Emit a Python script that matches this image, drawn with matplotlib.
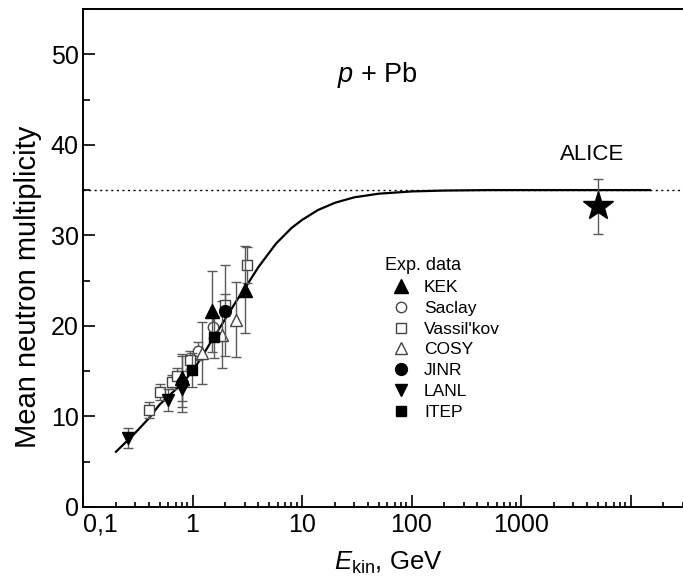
import matplotlib
matplotlib.use('Agg')
import matplotlib.pyplot as plt
from matplotlib.ticker import FixedLocator, LogLocator, NullFormatter, MultipleLocator

plt.rcParams['font.family'] = ['Liberation Sans', 'DejaVu Sans']
plt.rcParams['mathtext.fontset'] = 'custom'
plt.rcParams['mathtext.rm'] = 'Liberation Sans'
plt.rcParams['mathtext.it'] = 'Liberation Sans:italic'

# experimental data: energy (GeV), multiplicity, error
kek_e = [0.81, 1.50, 3.0]
kek_n = [14.2, 21.6, 24.0]
kek_err = [2.5, 4.5, 4.8]

saclay_e = [1.12, 1.55]
saclay_n = [17.2, 19.9]
saclay_err = [1.0, 1.2]

vass_e = [0.40, 0.50, 0.65, 0.72, 0.95, 2.0, 3.12]
vass_n = [10.7, 12.7, 13.8, 14.5, 16.2, 22.3, 26.7]
vass_err = [0.9, 0.9, 0.8, 0.9, 1.0, 1.2, 2.0]

cosy_e = [1.21, 1.85, 2.5]
cosy_n = [17.0, 19.0, 20.7]
cosy_err = [3.4, 3.7, 4.1]

jinr_e = [0.81, 2.0]
jinr_n = [13.7, 21.7]
jinr_err = [3.2, 5.0]

lanl_e = [0.26, 0.60, 0.80]
lanl_n = [7.6, 11.8, 13.0]
lanl_err = [1.1, 1.2, 2.0]

itep_e = [0.98, 1.58]
itep_n = [15.1, 18.8]
itep_err = [1.9, 2.3]

alice_e = [5000]
alice_n = [33.2]
alice_err = [3.0]

# model curve
curve_e = [0.2, 0.29, 0.4, 0.5, 0.65, 0.8, 1.0, 1.25, 1.5, 2.0, 2.5, 3.1, 4.0, 5.8,
           8.0, 10, 14, 20, 30, 50, 100, 200, 500, 1000, 3000, 15000]
curve_n = [6.1, 8.0, 9.8, 11.3, 12.6, 13.6, 15.0, 16.8, 18.4, 20.8, 22.7, 24.4, 26.5, 29.1,
           30.8, 31.7, 32.8, 33.6, 34.2, 34.6, 34.85, 34.95, 35.0, 35.0, 35.0, 35.0]
limit_n = 35

xtick_vals = [0.1, 1, 10, 100, 1000, 10000, 100000]
xtick_labels = ['0,1', '1', '10', '100', '1000', '', '']

W, H = 683, 580
fig = plt.figure(figsize=(W / 100, H / 100), dpi=100)
# the right end of the axes lies beyond the picture, as in the original
ax = fig.add_axes([83 / W, (H - 507) / H, 657 / W, 498 / H])

ax.axhline(limit_n, color='k', lw=1, ls=(0, (1.5, 2.5)), xmin=0, xmax=1)
ax.plot(curve_e, curve_n, color='k', lw=1.6, zorder=3)

ebar = dict(ecolor='#5a5a5a', elinewidth=1.0, capsize=3.5, capthick=1.0, ls='none')
open_style = dict(mfc='white', mec='#444444', mew=1.0)

h_vass = ax.errorbar(vass_e, vass_n, yerr=vass_err, marker='s', ms=7, zorder=4, **open_style, **ebar)
h_sac = ax.errorbar(saclay_e, saclay_n, yerr=saclay_err, marker='o', ms=7.5, zorder=4, **open_style, **ebar)
h_cosy = ax.errorbar(cosy_e, cosy_n, yerr=cosy_err, marker='^', ms=9, zorder=4, **open_style, **ebar)
h_lanl = ax.errorbar(lanl_e, lanl_n, yerr=lanl_err, marker='v', ms=9, color='k', zorder=5, **ebar)
h_itep = ax.errorbar(itep_e, itep_n, yerr=itep_err, marker='s', ms=7.5, color='k', zorder=5, **ebar)
h_jinr = ax.errorbar(jinr_e, jinr_n, yerr=jinr_err, marker='o', ms=8.5, color='k', zorder=5, **ebar)
h_kek = ax.errorbar(kek_e, kek_n, yerr=kek_err, marker='^', ms=9.5, color='k', zorder=5, **ebar)
ax.errorbar(alice_e, alice_n, yerr=alice_err, marker='*', ms=22, color='k', zorder=5, **ebar)

ax.set_xscale('log')
ax.set_xlim(0.1, 1e5)
ax.set_ylim(0, 55)
ax.xaxis.set_major_locator(FixedLocator(xtick_vals))
ax.set_xticklabels(xtick_labels)
ax.xaxis.set_minor_locator(LogLocator(base=10, subs=range(2, 10), numticks=20))
ax.xaxis.set_minor_formatter(NullFormatter())
ax.yaxis.set_major_locator(MultipleLocator(10))
ax.yaxis.set_minor_locator(MultipleLocator(5))

for sp in ax.spines.values():
    sp.set_linewidth(1.4)
ax.tick_params(axis='both', which='both', direction='in', top=False, right=False, width=1.2)
ax.tick_params(axis='x', which='major', length=8.5, labelsize=18, pad=4)
ax.tick_params(axis='x', which='minor', length=3.5)
ax.tick_params(axis='y', which='major', length=8.5, labelsize=18, pad=3)
ax.tick_params(axis='y', which='minor', length=5)
ax.get_xticklabels()[0].set_horizontalalignment('left')

ax.set_ylabel('Mean neutron multiplicity', fontsize=21)
ax.yaxis.set_label_coords(-0.062, (507 - 287) / 498)
ax.set_xlabel(r'$E_{\mathrm{kin}}$, GeV', fontsize=18.5)
ax.xaxis.set_label_coords((388 - 83) / 657, -0.085)

ax.text((377 - 83) / 657, (507 - 75) / 498, r'$p$ + Pb', transform=ax.transAxes,
        fontsize=19.5, ha='center', va='center')
ax.text((592 - 83) / 657, (507 - 155) / 498, 'ALICE', transform=ax.transAxes,
        fontsize=16, ha='center', va='center')

handles = [h_kek[0], h_sac[0], h_vass[0], h_cosy[0], h_jinr[0], h_lanl[0], h_itep[0]]
labels = ['KEK', 'Saclay', "Vassil'kov", 'COSY', 'JINR', 'LANL', 'ITEP']
leg = ax.legend(handles, labels, title='Exp. data', loc='upper left',
                bbox_to_anchor=(378 / W, (H - 250) / H), bbox_transform=fig.transFigure,
                frameon=False, fontsize=12.5, title_fontsize=13, labelspacing=0.33,
                handletextpad=0.45, handlelength=1.8, alignment='left', borderaxespad=0)

fig.savefig('out.png', dpi=100)
